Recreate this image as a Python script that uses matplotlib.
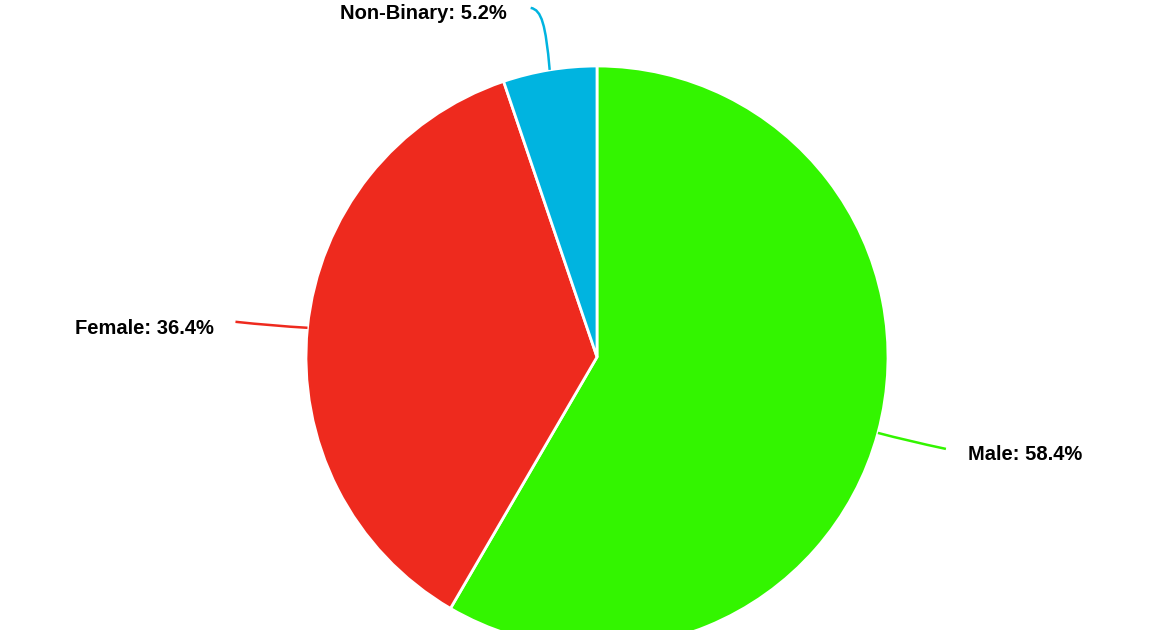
import matplotlib
matplotlib.use("Agg")
import matplotlib.pyplot as plt
import numpy as np
from matplotlib.path import Path
from matplotlib.patches import PathPatch

categories = ["Male", "Female", "Non-Binary"]
values = [58.4, 36.4, 5.2]
colors = ["#33F500", "#EE2A1E", "#00B4E0"]

W, H = 1171, 630
fig = plt.figure(figsize=(W / 100, H / 100), dpi=100)
ax = fig.add_axes([0, 0, 1, 1])
cx, cy, R = 597, H - 357, 291
ax.pie(values, colors=colors, startangle=90, counterclock=False, radius=R,
       center=(cx, cy), frame=True,
       wedgeprops=dict(edgecolor="white", linewidth=2))
ax.set_xlim(0, W)
ax.set_ylim(0, H)
ax.set_aspect("equal")
ax.axis("off")

# label layout: (control offset, end offset, text offset, ha)
layout = {
    "Male": ((30, -8), (68, -16), (22, -6), "left"),
    "Female": ((-35, 2), (-72, 6), (-22, -7), "right"),
    "Non-Binary": ((-4, 45), (-20, 62), (-24, -6), "right"),
}
total = sum(values)
cum = 0
for cat, v, col in zip(categories, values, colors):
    mid = 90 - (cum + v / 2) / total * 360
    cum += v
    a = np.deg2rad(mid)
    x0, y0 = cx + R * np.cos(a), cy + R * np.sin(a)
    (c1x, c1y), (ex, ey), (tx, ty), ha = layout[cat]
    if cat == "Non-Binary":
        verts = [(x0, y0), (x0 - 4, y0 + 45), (x0 - 8, y0 + 60), (x0 - 19, y0 + 62)]
        codes = [Path.MOVETO, Path.CURVE4, Path.CURVE4, Path.CURVE4]
    else:
        verts = [(x0, y0), (x0 + c1x, y0 + c1y), (x0 + ex, y0 + ey)]
        codes = [Path.MOVETO, Path.CURVE3, Path.CURVE3]
    ax.add_patch(PathPatch(Path(verts, codes), facecolor="none", edgecolor=col, lw=1.8))
    ex2, ey2 = verts[-1]
    ax.text(ex2 + tx, ey2 + ty, f"{cat}: {v}%", ha=ha, va="center",
            fontsize=14.5, fontweight="bold", family="Liberation Sans", color="black")

fig.savefig("out.png", dpi=100)
